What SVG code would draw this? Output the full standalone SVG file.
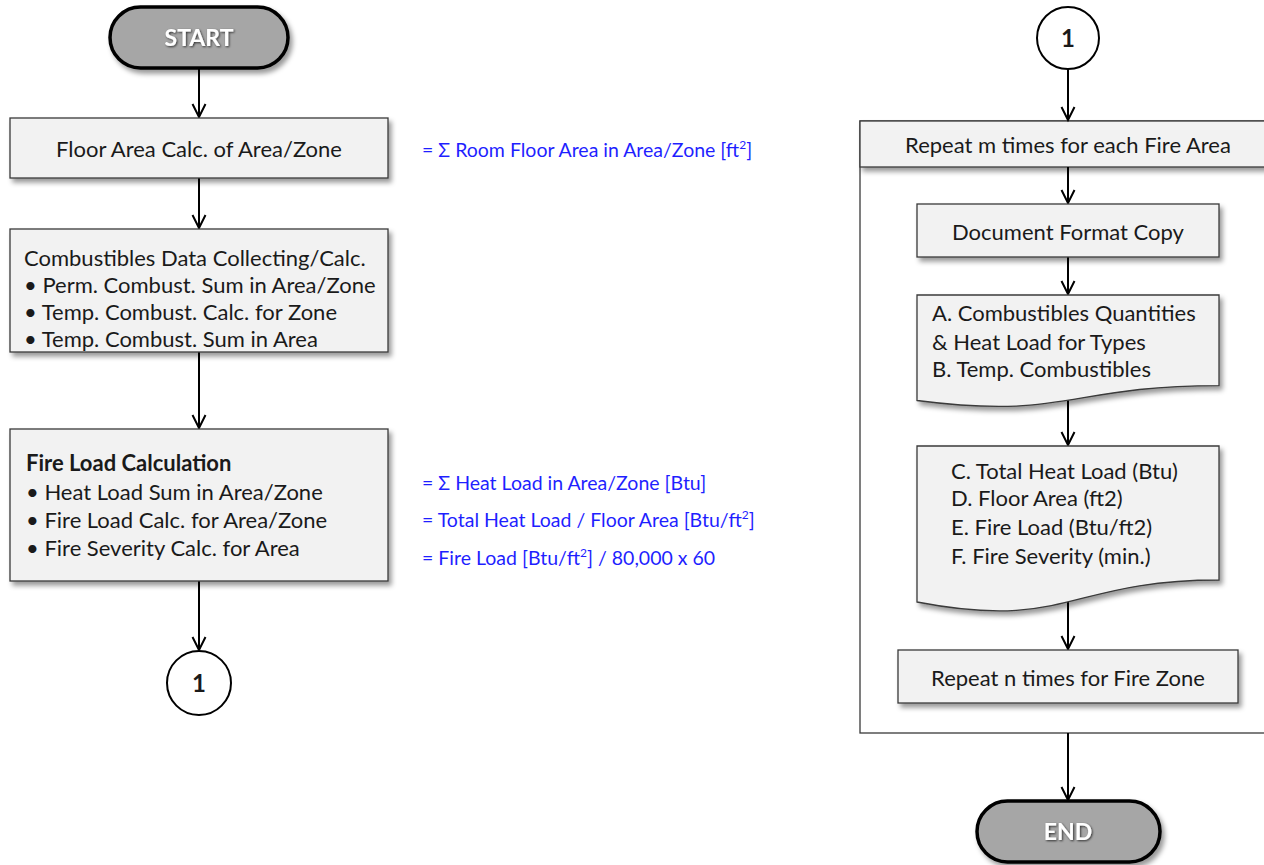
<svg xmlns="http://www.w3.org/2000/svg" width="1264" height="865" viewBox="0 0 1264 865">
<defs>
<filter id="sh" x="-10%" y="-20%" width="130%" height="150%">
<feDropShadow dx="3" dy="4" stdDeviation="2.5" flood-color="#000" flood-opacity="0.4"/>
</filter>
<filter id="tsh" x="-20%" y="-30%" width="140%" height="160%">
<feDropShadow dx="1" dy="1" stdDeviation="0.8" flood-color="#000" flood-opacity="0.7"/>
</filter>
<marker id="arr" markerWidth="20" markerHeight="16" refX="16" refY="8" orient="auto" markerUnits="userSpaceOnUse">
<path d="M3,1.5 L16,8 L3,14.5" fill="none" stroke="#000" stroke-width="2"/>
</marker>
</defs>
<style>
.box{fill:#f2f2f2;stroke:#3a3a3a;stroke-width:1.3;filter:url(#sh)}
.pill{fill:#a6a6a6;stroke:#000;stroke-width:3.5;filter:url(#sh)}
.circ{fill:#fff;stroke:#000;stroke-width:2}
.t{font-family:Lato,"Open Sans",sans-serif;font-size:22px;fill:#1a1a1a}
.c{text-anchor:middle}
.b{font-weight:bold}
.n{font-size:24px}
.blue{font-family:Lato,"Open Sans",sans-serif;font-size:19.5px;fill:#1f1fff}
.pt{font-family:Lato,"Open Sans",sans-serif;font-size:23px;font-weight:bold;fill:#fff;text-anchor:middle;filter:url(#tsh)}
.cn{fill:none;stroke:#000;stroke-width:2;marker-end:url(#arr)}
</style>
<rect width="1264" height="865" fill="#fff"/>

<g id="loop-area">
<rect x="860" y="121" width="420" height="612" fill="none" stroke="#3a3a3a" stroke-width="1.3"/>
<rect class="box" x="860" y="121" width="420" height="46"/>
<text class="t c" x="1068" y="153">Repeat m times for each Fire Area</text>
</g>

<g id="connectors">
<line class="cn" x1="199" y1="68" x2="199" y2="117"/>
<line class="cn" x1="199" y1="178" x2="199" y2="228"/>
<line class="cn" x1="199" y1="352" x2="199" y2="428"/>
<line class="cn" x1="199" y1="581" x2="199" y2="650"/>
<line class="cn" x1="1068" y1="69" x2="1068" y2="120"/>
<line class="cn" x1="1068" y1="167" x2="1068" y2="203"/>
<line class="cn" x1="1068" y1="257" x2="1068" y2="294"/>
<line class="cn" x1="1068" y1="398" x2="1068" y2="445"/>
<line class="cn" x1="1068" y1="600" x2="1068" y2="649"/>
<line class="cn" x1="1068" y1="733" x2="1068" y2="800"/>
</g>

<g id="start">
<rect class="pill" x="110" y="7" width="178" height="61" rx="30.5"/>
<text class="pt" x="199" y="46">START</text>
</g>

<g id="floor-area">
<rect class="box" x="10" y="118" width="378" height="60"/>
<text class="t c" x="199" y="157">Floor Area Calc. of Area/Zone</text>
</g>
<g id="floor-area-note">
<text class="blue" x="422" y="157">= Σ Room Floor Area in Area/Zone [ft<tspan font-size="12" dy="-8">2</tspan><tspan dy="8">]</tspan></text>
</g>

<g id="combustibles">
<rect class="box" x="10" y="229" width="378" height="123"/>
<text class="t" x="24" y="266">Combustibles Data Collecting/Calc.</text>
<text class="t" x="24" y="293">• Perm. Combust. Sum in Area/Zone</text>
<text class="t" x="24" y="320">• Temp. Combust. Calc. for Zone</text>
<text class="t" x="24" y="347">• Temp. Combust. Sum in Area</text>
</g>

<g id="fire-load">
<rect class="box" x="10" y="429" width="378" height="152"/>
<text class="t b" x="26" y="471">Fire Load Calculation</text>
<text class="t" x="26" y="500">• Heat Load Sum in Area/Zone</text>
<text class="t" x="26" y="528">• Fire Load Calc. for Area/Zone</text>
<text class="t" x="26" y="556">• Fire Severity Calc. for Area</text>
</g>
<g id="fire-load-notes">
<text class="blue" x="422" y="490">= Σ Heat Load in Area/Zone [Btu]</text>
<text class="blue" x="422" y="527">= Total Heat Load / Floor Area [Btu/ft<tspan font-size="12" dy="-8">2</tspan><tspan dy="8">]</tspan></text>
<text class="blue" x="422" y="565">= Fire Load [Btu/ft<tspan font-size="12" dy="-8">2</tspan><tspan dy="8">] / 80,000 x 60</tspan></text>
</g>

<g id="conn-left">
<circle class="circ" cx="199" cy="683" r="32"/>
<text class="t b c n" x="199" y="692">1</text>
</g>

<g id="conn-right">
<circle class="circ" cx="1068" cy="38" r="31"/>
<text class="t b c n" x="1068" y="47">1</text>
</g>

<g id="doc-copy">
<rect class="box" x="917" y="204" width="302" height="53"/>
<text class="t c" x="1068" y="240">Document Format Copy</text>
</g>

<g id="doc-a">
<path class="box" d="M917,295 H1219 V385.6 C1068,385.6 1068,420 917,400.5 Z"/>
<text class="t" x="932" y="321">A. Combustibles Quantities</text>
<text class="t" x="932" y="350">&amp; Heat Load for Types</text>
<text class="t" x="932" y="377">B. Temp. Combustibles</text>
</g>

<g id="doc-c">
<path class="box" d="M917,446 H1219 V580 C1068,580 1068,631 917,602 Z"/>
<text class="t" x="951" y="479">C. Total Heat Load (Btu)</text>
<text class="t" x="951" y="506">D. Floor Area (ft2)</text>
<text class="t" x="951" y="535">E. Fire Load (Btu/ft2)</text>
<text class="t" x="951" y="564">F. Fire Severity (min.)</text>
</g>

<g id="repeat-zone">
<rect class="box" x="898" y="650" width="340" height="53"/>
<text class="t c" x="1068" y="686">Repeat n times for Fire Zone</text>
</g>

<g id="end">
<rect class="pill" x="977" y="801" width="183" height="61" rx="30.5"/>
<text class="pt" x="1068" y="840">END</text>
</g>
</svg>
